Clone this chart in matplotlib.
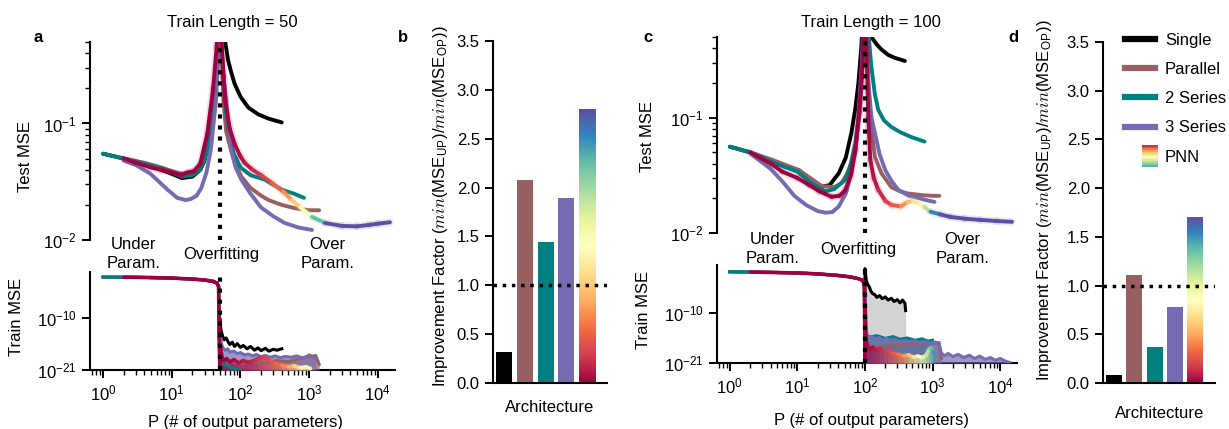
import numpy as np
import matplotlib
matplotlib.use('Agg')
from matplotlib import pyplot as plt
from matplotlib.collections import LineCollection
from matplotlib.colors import Normalize
from matplotlib.legend_handler import HandlerBase
from matplotlib.lines import Line2D
from matplotlib.patches import Rectangle
from matplotlib.ticker import NullFormatter, NullLocator

plt.rcParams['font.family'] = ['Liberation Sans', 'DejaVu Sans']
plt.rcParams['font.size'] = 12
plt.rcParams['mathtext.fontset'] = 'custom'
plt.rcParams['mathtext.rm'] = 'Liberation Sans'
plt.rcParams['mathtext.it'] = 'cmmi10'

# ---------------- data: panel a (train length 50), test MSE ----------------
p_single_a = [1, 2, 4, 7, 10, 14, 20, 26, 30, 37, 44, 48, 50, 55, 60, 66, 74, 82, 100, 130, 180, 257, 400]
single_a = [0.055, 0.050, 0.045, 0.040, 0.037, 0.034, 0.035, 0.040, 0.048, 0.082, 0.22, 0.5, 1.5, 1.0, 0.5, 0.35, 0.27, 0.22, 0.17, 0.137, 0.12, 0.11, 0.102]

p_parallel_a = [2, 4, 7, 10, 14, 20, 26, 32, 38, 43, 47, 50, 53, 57, 62, 73, 85, 103, 140, 200, 257, 400, 630, 1000, 1400]
parallel_a = [0.050, 0.046, 0.042, 0.039, 0.037, 0.038, 0.042, 0.055, 0.09, 0.18, 0.4, 1.5, 0.4, 0.15, 0.085, 0.059, 0.045, 0.035, 0.028, 0.024, 0.022, 0.020, 0.0187, 0.018, 0.018]

p_series2_a = [1, 2, 4, 7, 10, 14, 20, 26, 32, 38, 43, 47, 50, 53, 57, 62, 70, 80, 100, 140, 225, 400, 600, 840]
series2_a = [0.055, 0.050, 0.045, 0.041, 0.038, 0.035, 0.036, 0.040, 0.055, 0.09, 0.18, 0.4, 1.5, 0.5, 0.22, 0.12, 0.075, 0.055, 0.042, 0.036, 0.033, 0.027, 0.025, 0.023]

p_series3_a = [2, 3, 4.9, 8.7, 12, 16, 19, 23, 27, 32, 37, 44, 48, 50, 53, 57, 62, 67, 73, 85, 103, 140, 200, 300, 440, 700, 1100]
series3_a = [0.048, 0.044, 0.037, 0.027, 0.023, 0.022, 0.0225, 0.024, 0.028, 0.038, 0.059, 0.157, 0.4, 1.5, 0.45, 0.25, 0.157, 0.1, 0.059, 0.042, 0.033, 0.025, 0.019, 0.016, 0.014, 0.0128, 0.0122]

p_pnn_a = [2, 3, 4.9, 7, 10, 13.5, 17, 21, 26, 33, 40, 45, 48, 50, 53, 57, 60, 70, 82, 100, 115, 150, 200, 285, 420, 560, 750, 1100, 1700, 3000, 5000, 7600, 10000, 15000]
pnn_a = [0.050, 0.046, 0.042, 0.040, 0.038, 0.036, 0.038, 0.039, 0.045, 0.082, 0.2, 0.45, 1.0, 1.5, 0.5, 0.25, 0.157, 0.09, 0.067, 0.052, 0.046, 0.040, 0.036, 0.031, 0.026, 0.022, 0.019, 0.0158, 0.014, 0.0132, 0.0131, 0.0135, 0.0138, 0.0142]

# ---------------- data: panel a, train MSE (log10) ----------------
p_under_a = [1, 2, 5, 10, 20, 30, 40, 45, 48, 50]
under_a_log = [-1.27, -1.3, -1.38, -1.5, -1.7, -1.9, -2.2, -2.5, -3.2, -20.5]

p_single_a_post = [50, 52, 55, 58, 62, 66, 70, 76, 82, 90, 100, 110, 125, 140, 160, 180, 200, 230, 260, 300, 340, 400]
single_a_post_log = [-10, -12.5, -13.8, -14.6, -14.2, -15.0, -15.6, -15.1, -16.0, -15.4, -16.2, -15.8, -16.5, -16.0, -16.8, -16.3, -16.9, -16.4, -17.0, -16.6, -16.8, -16.5]

p_parallel_a_post = [52, 60, 75, 100, 150, 220, 330, 500, 700, 900, 1000, 1100, 1250, 1400]
parallel_a_post_log = [-19.5, -19.8, -19.3, -19.6, -19.2, -19.5, -19.0, -19.2, -18.7, -18.3, -17.8, -18.1, -17.9, -19.8]

p_series2_a_post = [52, 56, 60, 66, 72, 80, 90, 100]
series2_a_post_log = [-18.5, -19.5, -19.8, -20.2, -20.4, -20.7, -20.8, -21]

p_series3_a_post = [51, 53, 56, 60, 65, 70, 80, 90, 100, 115, 130, 150, 170, 200, 230, 270, 320, 380, 450, 550, 650, 800, 950, 1100, 1250]
series3_a_post_log = [-13.5, -15.5, -16.4, -16.8, -16.5, -17.2, -17.0, -17.5, -17.3, -17.8, -17.6, -18.0, -17.7, -18.2, -17.9, -18.3, -18.0, -18.4, -18.1, -18.3, -18.0, -18.4, -18.1, -18.3, -18.6]

p_pnn_a_post = [51, 54, 58, 63, 70, 80, 95, 110, 130, 150, 180, 210, 240, 280, 330, 400, 500, 600, 750, 900, 1050]
pnn_a_post_log = [-16, -18.3, -19.0, -18.6, -19.3, -18.8, -19.5, -19.0, -19.4, -19.1, -18.6, -18.2, -18.5, -19.2, -19.6, -20.0, -20.3, -20.1, -20.5, -20.3, -20.7]

# ---------------- data: panel c (train length 100), test MSE ----------------
p_single_c = [1, 2, 4.3, 10.6, 15, 21, 30, 41, 52, 63, 72, 80, 88, 95, 100, 110, 124, 150, 175, 220, 275, 390]
single_c = [0.056, 0.050, 0.041, 0.035, 0.029, 0.025, 0.026, 0.033, 0.045, 0.074, 0.12, 0.2, 0.4, 0.8, 1.5, 1.0, 0.5, 0.43, 0.39, 0.35, 0.33, 0.31]

p_parallel_c = [2, 4.3, 10.6, 23, 35, 45, 58, 72, 85, 95, 100, 105, 115, 125, 140, 175, 245, 330, 430, 700, 1000, 1260]
parallel_c = [0.050, 0.043, 0.035, 0.0255, 0.025, 0.027, 0.035, 0.053, 0.12, 0.4, 1.5, 0.4, 0.15, 0.08, 0.046, 0.033, 0.025, 0.023, 0.022, 0.0213, 0.021, 0.021]

p_series2_c = [1, 2, 4.3, 10, 15, 20, 26, 35, 51, 62, 72, 80, 88, 95, 100, 105, 112, 124, 140, 157, 190, 245, 330, 480, 760]
series2_c = [0.056, 0.050, 0.041, 0.034, 0.028, 0.025, 0.023, 0.024, 0.029, 0.040, 0.06, 0.1, 0.2, 0.5, 1.5, 1.0, 0.55, 0.28, 0.16, 0.117, 0.095, 0.083, 0.075, 0.068, 0.062]

p_series3_c = [2, 4, 6, 9, 13.4, 20, 26, 33, 41, 52, 63, 72, 80, 90, 100, 106, 112, 125, 140, 165, 200, 250, 310, 450, 600, 800, 1070]
series3_c = [0.049, 0.036, 0.028, 0.021, 0.0175, 0.0155, 0.015, 0.0152, 0.017, 0.022, 0.033, 0.05, 0.1, 0.3, 1.5, 0.5, 0.2, 0.1, 0.074, 0.048, 0.035, 0.028, 0.0237, 0.021, 0.0202, 0.0193, 0.0186]

p_pnn_c = [2, 4, 6, 10, 15, 21, 32, 42, 51, 62, 72, 82, 92, 100, 106, 112, 120, 135, 157, 200, 245, 340, 420, 510, 640, 760, 930, 1300, 1830, 3000, 5000, 8900, 15000]
pnn_c = [0.050, 0.040, 0.034, 0.030, 0.026, 0.023, 0.0206, 0.021, 0.0235, 0.032, 0.053, 0.11, 0.3, 1.5, 0.35, 0.1, 0.043, 0.03, 0.0237, 0.019, 0.0175, 0.017, 0.0185, 0.019, 0.018, 0.0168, 0.0153, 0.0145, 0.0138, 0.0133, 0.013, 0.0127, 0.0125]

# ---------------- data: panel c, train MSE (log10) ----------------
p_under_c = [1, 2, 5, 10, 20, 40, 60, 80, 90, 95, 98, 100]
under_c_log = [-1.0, -1.05, -1.15, -1.25, -1.45, -1.8, -2.1, -2.5, -2.8, -3.2, -4.0, -20.5]

p_single_c_post = [100, 102, 105, 110, 116, 122, 130, 140, 150, 165, 180, 200, 220, 245, 270, 300, 330, 360, 390, 400]
single_c_post_log = [-0.3, -1.5, -3.0, -3.8, -4.3, -5.2, -5.8, -6.0, -6.6, -6.2, -6.9, -6.5, -7.2, -6.8, -7.5, -7.1, -7.8, -7.2, -7.9, -9.5]

p_parallel_c_post = [101, 150, 250, 400, 600, 800, 950, 1100, 1250, 1350]
parallel_c_post_log = [-17.0, -17.5, -17.2, -17.0, -16.8, -16.6, -16.4, -16.7, -16.5, -20]

p_series2_c_post = [101, 120, 150, 200, 260, 330, 420, 550, 700, 850, 1000]
series2_c_post_log = [-14.8, -15.3, -15.0, -15.6, -15.2, -15.8, -15.5, -16.0, -15.7, -16.2, -16.0]

p_series3_c_post = [101, 104, 108, 115, 125, 140, 160, 185, 210, 240, 280, 330, 390, 460, 550, 650, 780, 920, 1100, 1250, 1350,
                    1500, 1700, 2000, 2400, 2900, 3500, 4200, 5000, 6000, 7200, 8500, 10000, 12000, 14000]
series3_c_post_log = [-6, -13.5, -15.0, -15.5, -15.2, -15.8, -15.4, -16.0, -15.6, -16.1, -15.8, -16.3, -16.0, -16.4, -16.1, -16.6, -16.3, -16.7, -16.4, -16.8, -18.8,
                      -19.4, -18.9, -19.6, -19.1, -19.8, -19.3, -20.0, -19.5, -20.2, -19.8, -20.4, -20.0, -20.6, -20.9]

p_pnn_c_post = [100, 103, 107, 112, 120, 130, 145, 165, 190, 220, 260, 310, 370, 440, 520, 610, 700, 800, 880, 950, 1020, 1100]
pnn_c_post_log = [-8, -15.5, -17.0, -17.6, -17.9, -17.5, -18.2, -17.8, -18.5, -18.2, -18.8, -19.1, -19.4, -19.2, -19.7, -19.5, -19.8, -19.3, -18.0, -17.6, -18.4, -19.5]

# ---------------- data: improvement factor bars ----------------
arch = ['Single', 'Parallel', '2 Series', '3 Series', 'PNN']
improvement_b = [0.32, 2.08, 1.44, 1.89, 2.80]
improvement_d = [0.08, 1.11, 0.37, 0.78, 1.70]

BROWN = '#976161'
TEAL = '#008080'
PURPLE = '#756bb1'
arch_colors = ['black', BROWN, TEAL, PURPLE]
cmap = plt.get_cmap('Spectral')

W, H = 1229, 429
fig = plt.figure(figsize=(W / 100, H / 100), dpi=100)


def rect(x0, y0, x1, y1):
    # pixel box -> figure fraction
    return [x0 / W, 1 - y1 / H, (x1 - x0) / W, (y1 - y0) / H]


def ftext(x, y, s, **kw):
    fig.text(x / W, 1 - y / H, s, ha='center', va='center', **kw)


def colour_line(ax, p, y, norm, lw=2.8, alpha=1.0, z=6):
    pts = np.column_stack([p, y]).reshape(-1, 1, 2)
    segs = np.concatenate([pts[:-1], pts[1:]], axis=1)
    lc = LineCollection(segs, cmap=cmap, norm=norm, linewidths=lw, alpha=alpha, zorder=z, capstyle='round')
    p = np.asarray(p, dtype=float)
    lc.set_array(np.sqrt(p[:-1] * p[1:]))
    ax.add_collection(lc)


def colour_fill(ax, p, y, norm, floor, z=3):
    for i in range(len(p) - 1):
        mid = np.sqrt(p[i] * p[i + 1])
        ax.fill_between(p[i:i + 2], y[i:i + 2], floor, color=cmap(norm(mid)), alpha=0.7, lw=0, zorder=z)


def style_log_axes(top, bot, ytop_bot):
    for ax in (top, bot):
        ax.set_xscale('log')
        ax.set_yscale('log')
        ax.set_xlim(10 ** -0.19, 10 ** 4.25)
        ax.spines[['top', 'right']].set_visible(False)
        for s in ax.spines.values():
            s.set_linewidth(1.5)
        ax.tick_params(which='major', length=6, width=1.4, labelsize=12)
        ax.tick_params(which='minor', length=3.5, width=1.0)
    top.spines['bottom'].set_visible(False)
    top.tick_params(axis='x', which='both', bottom=False, labelbottom=False)
    top.set_ylim(0.01, 0.5)
    top.yaxis.set_minor_formatter(NullFormatter())
    bot.set_ylim(1e-21, ytop_bot)
    bot.set_yticks([1e-21, 1e-10])
    bot.yaxis.set_minor_locator(NullLocator())


def draw_length(top, bot, L, tests, pnn_test, unders, posts, pnn_post, norm, grey_band):
    # test MSE
    for (p, v), c in zip(tests, arch_colors):
        top.plot(p, v, color=c, lw=2.8, solid_capstyle='round', zorder=4)
    colour_line(top, pnn_test[0], pnn_test[1], norm, lw=5.5, alpha=0.12, z=5)
    colour_line(top, pnn_test[0], pnn_test[1], norm)
    top.axvline(L, color='k', ls=':', lw=3, zorder=10)

    # train MSE
    p_u, u_log = unders
    u = np.power(10.0, u_log)
    for i, ((p, lg), c) in enumerate(zip(posts, arch_colors)):
        v = np.power(10.0, lg)
        if i == 0:
            if grey_band:
                bot.fill_between(p, v, 1e-21, color='#c8c8c8', alpha=0.8, lw=0, zorder=2)
        else:
            bot.fill_between(p, v, 1e-21, color=c, alpha=0.7, lw=0, zorder=3)
        start = 0 if c in ('black', TEAL) else 1
        bot.plot(list(p_u[start:]) + list(p), list(u[start:]) + list(v), color=c, lw=2.2, zorder=4)
    pv = np.power(10.0, pnn_post[1])
    colour_fill(bot, pnn_post[0], pv, norm, 1e-21)
    colour_line(bot, list(p_u[1:]) + list(pnn_post[0]), list(u[1:]) + list(pv), norm, lw=2.6)
    bot.axvline(L, color='k', ls=':', lw=3, zorder=10)


def bar_panel(ax, vals):
    x = np.arange(len(arch))
    ax.bar(x[:4], vals[:4], width=0.78, color=arch_colors, zorder=2)
    grad = np.linspace(0, 1, 256).reshape(-1, 1)
    ax.imshow(grad, cmap=cmap, origin='lower', aspect='auto',
              extent=(x[4] - 0.39, x[4] + 0.39, 0, vals[4]), zorder=2)
    ax.axhline(1.0, color='k', ls=':', lw=2.5, zorder=5)
    ax.set_xlim(-0.55, 4.98)
    ax.set_ylim(0, 3.5)
    ax.set_yticks(np.arange(0, 3.51, 0.5))
    ax.set_xticks([])
    ax.spines[['top', 'right']].set_visible(False)
    for s in ax.spines.values():
        s.set_linewidth(1.5)
    ax.tick_params(length=6, width=1.4, labelsize=12)


# ---------------- panel a ----------------
ax_a1 = fig.add_axes(rect(90, 42, 395, 240))
ax_a2 = fig.add_axes(rect(90, 272, 395, 370))
style_log_axes(ax_a1, ax_a2, 10 ** -0.2)
draw_length(ax_a1, ax_a2, 50,
            [(p_single_a, single_a), (p_parallel_a, parallel_a), (p_series2_a, series2_a), (p_series3_a, series3_a)],
            (p_pnn_a, pnn_a), (p_under_a, under_a_log),
            [(p_single_a_post, single_a_post_log), (p_parallel_a_post, parallel_a_post_log),
             (p_series2_a_post, series2_a_post_log), (p_series3_a_post, series3_a_post_log)],
            (p_pnn_a_post, pnn_a_post_log), Normalize(50, 1700), False)

# ---------------- panel c ----------------
ax_c1 = fig.add_axes(rect(717, 37, 1017, 233))
ax_c2 = fig.add_axes(rect(717, 265, 1017, 363))
style_log_axes(ax_c1, ax_c2, 10 ** 0.5)
draw_length(ax_c1, ax_c2, 100,
            [(p_single_c, single_c), (p_parallel_c, parallel_c), (p_series2_c, series2_c), (p_series3_c, series3_c)],
            (p_pnn_c, pnn_c), (p_under_c, under_c_log),
            [(p_single_c_post, single_c_post_log), (p_parallel_c_post, parallel_c_post_log),
             (p_series2_c_post, series2_c_post_log), (p_series3_c_post, series3_c_post_log)],
            (p_pnn_c_post, pnn_c_post_log), Normalize(100, 1200), True)

# regime annotations
for ax, yy, xs in ((ax_a1, -0.071, (2.8, 52, 1830)), (ax_c1, -0.082, (4.3, 80, 2750))):
    tr = ax.get_xaxis_transform()
    ax.text(xs[0], yy, 'Under\nParam.', transform=tr, ha='center', va='center', fontsize=12, linespacing=1.35)
    ax.text(xs[1], yy, 'Overfitting', transform=tr, ha='center', va='center', fontsize=12)
    ax.text(xs[2], yy, 'Over\nParam.', transform=tr, ha='center', va='center', fontsize=12, linespacing=1.35)

# ---------------- panels b, d ----------------
ax_b = fig.add_axes(rect(493, 41, 607, 383))
bar_panel(ax_b, improvement_b)
ax_d = fig.add_axes(rect(1103, 42, 1215, 383))
bar_panel(ax_d, improvement_d)

ylab = r'Improvement Factor ($\mathit{min}$(MSE$_{\mathrm{UP}}$)/$\mathit{min}$(MSE$_{\mathrm{OP}}$))'
ftext(440, 206, ylab, rotation=90, fontsize=12)
ftext(1045, 200, ylab, rotation=90, fontsize=12)
ftext(550, 408, 'Architecture', fontsize=12)
ftext(1160, 413, 'Architecture', fontsize=12)

# ---------------- text ----------------
ftext(232, 22, 'Train Length = 50', fontsize=12)
ftext(871, 22, 'Train Length = 100', fontsize=12)
ftext(25, 157, 'Test MSE', rotation=90, fontsize=12)
ftext(648, 137, 'Test MSE', rotation=90, fontsize=12)
ftext(17, 317, 'Train MSE', rotation=90, fontsize=12)
ftext(643, 310, 'Train MSE', rotation=90, fontsize=12)
ftext(246, 423, 'P (# of output parameters)', fontsize=12)
ftext(871, 420, 'P (# of output parameters)', fontsize=12)
for lab, x, y in (('a', 38, 37), ('b', 403, 37), ('c', 648, 38), ('d', 1013, 37)):
    ftext(x, y, lab, fontsize=12, fontweight='bold')


# ---------------- legend ----------------
class PNNKey:
    pass


class GradientKey(HandlerBase):
    def create_artists(self, legend, orig_handle, xdescent, ydescent, width, height, fontsize, trans):
        n = 12
        w = 0.53 * width
        x0 = 0.57 * width - xdescent
        h = 1.9 * height
        y0 = -ydescent + 0.5 * height - 0.5 * h
        out = []
        for i in range(n):
            out.append(Rectangle((x0, y0 + h * (n - 1 - i) / n), w, h / n * 1.05,
                                 facecolor=cmap(0.08 + 0.75 * i / (n - 1)), edgecolor='none', transform=trans))
        return out


handles = [Line2D([], [], color=c, lw=4.5) for c in arch_colors] + [PNNKey()]
fig.legend(handles, arch, loc='upper left', bbox_to_anchor=(1125 / W, 1 - 33 / H), frameon=False,
           borderpad=0, borderaxespad=0, handlelength=1.8, handletextpad=0.6, labelspacing=0.85,
           fontsize=12, handler_map={PNNKey: GradientKey()})

fig.savefig('out.png', dpi=100)
